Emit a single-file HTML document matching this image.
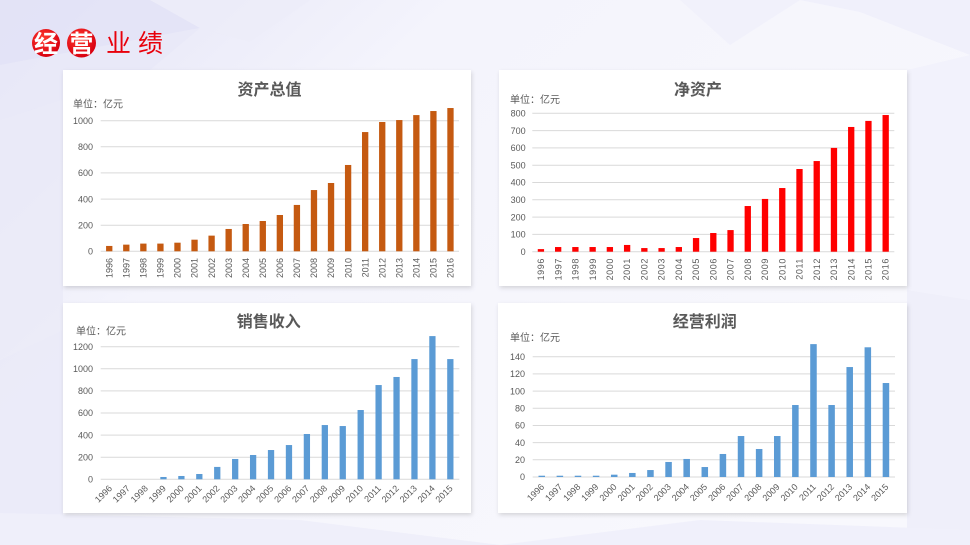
<!DOCTYPE html>
<html><head><meta charset="utf-8">
<style>
html,body{margin:0;padding:0;width:970px;height:545px;overflow:hidden;background:#f5f5fc;}
svg{display:block;}
text{font-family:"Liberation Sans","Noto Sans CJK SC",sans-serif;}
.t{font-size:16px;font-weight:bold;fill:#595959;text-anchor:middle;}
.u{font-size:10px;fill:#595959;}
.y{font-size:9px;fill:#595959;text-anchor:end;}
.x{font-size:9px;fill:#595959;text-anchor:end;}
.g{stroke:#d9d9d9;stroke-width:1;}
</style></head><body>
<svg width="970" height="545" viewBox="0 0 970 545" xmlns="http://www.w3.org/2000/svg">
<defs>
<filter id="sh" x="-5%" y="-5%" width="110%" height="110%">
<feDropShadow dx="1" dy="2" stdDeviation="2" flood-color="#000" flood-opacity="0.14"/>
</filter>
<radialGradient id="rc" cx="40%" cy="35%" r="65%">
<stop offset="0" stop-color="#ff3b30"/><stop offset="1" stop-color="#d80010"/>
</radialGradient>
<linearGradient id="bgl" x1="0" y1="0" x2="1" y2="0.6">
<stop offset="0" stop-color="#e4e4f6"/><stop offset="0.35" stop-color="#f4f4fc"/><stop offset="1" stop-color="#f8f8fd"/>
</linearGradient>
</defs>
<!-- background -->
<rect width="970" height="545" fill="url(#bgl)"/>
<polygon points="0,0 150,0 200,28 0,65" fill="#e2e2f6" opacity="0.8"/>
<polygon points="0,65 200,28 150,70 0,120" fill="#e8e8f8" opacity="0.8"/>
<polygon points="150,0 310,0 250,42 200,28" fill="#ececf9" opacity="0.8"/>
<polygon points="0,120 63,100 63,330 0,360" fill="#eaeaf8" opacity="0.8"/>
<polygon points="0,360 63,330 63,545 0,545" fill="#e8e8f8" opacity="0.8"/>
<polygon points="680,0 800,0 730,45" fill="#f1f1fb"/>
<polygon points="800,0 970,0 970,55 860,12" fill="#f0f0fb"/>
<polygon points="907,70 970,55 970,300 907,290" fill="#f2f2fc"/>
<polygon points="907,290 970,300 970,545 907,545" fill="#efeffa"/>
<polygon points="0,513 300,520 500,545 0,545" fill="#efeffa"/>
<polygon points="500,545 700,520 970,530 970,545" fill="#f0f0fb"/>

<!-- header -->
<circle cx="46" cy="43" r="14" fill="url(#rc)"/>
<circle cx="81.5" cy="43" r="14.5" fill="url(#rc)"/>
<text x="46" y="52" font-size="24" font-weight="bold" fill="#fff" text-anchor="middle">经</text>
<text x="81.5" y="52" font-size="24" font-weight="bold" fill="#fff" text-anchor="middle">营</text>
<text x="118.5" y="52" font-size="25" fill="#e8000b" text-anchor="middle">业</text>
<text x="150.5" y="52" font-size="25" fill="#e8000b" text-anchor="middle">绩</text>

<!-- panels -->
<rect x="63" y="70" width="408" height="216" fill="#fff" filter="url(#sh)"/>
<rect x="499" y="70" width="408" height="216" fill="#fff" filter="url(#sh)"/>
<rect x="63" y="303" width="408" height="210" fill="#fff" filter="url(#sh)"/>
<rect x="498" y="303" width="409" height="210" fill="#fff" filter="url(#sh)"/>

<!-- ===== Panel 1 ===== -->
<text class="t" x="269.5" y="95">资产总值</text>
<text class="u" x="73" y="107.5">单位：亿元</text>
<g class="g">
<line x1="100.7" x2="459" y1="120.7" y2="120.7"/>
<line x1="100.7" x2="459" y1="146.8" y2="146.8"/>
<line x1="100.7" x2="459" y1="172.9" y2="172.9"/>
<line x1="100.7" x2="459" y1="199.1" y2="199.1"/>
<line x1="100.7" x2="459" y1="225.2" y2="225.2"/>
<line x1="100.7" x2="459" y1="251.3" y2="251.3"/>
</g>
<g>
<text class="y" x="93" y="123.9">1000</text>
<text class="y" x="93" y="150">800</text>
<text class="y" x="93" y="176.1">600</text>
<text class="y" x="93" y="202.3">400</text>
<text class="y" x="93" y="228.4">200</text>
<text class="y" x="93" y="254.5">0</text>
</g>
<g transform="translate(100.7,251.3) scale(17.062,-0.1306)" fill="#c55a11">
<rect x="0.315" width="0.37" y="0" height="41"/>
<rect x="1.315" width="0.37" y="0" height="51"/>
<rect x="2.315" width="0.37" y="0" height="59"/>
<rect x="3.315" width="0.37" y="0" height="59"/>
<rect x="4.315" width="0.37" y="0" height="66"/>
<rect x="5.315" width="0.37" y="0" height="89"/>
<rect x="6.315" width="0.37" y="0" height="120"/>
<rect x="7.315" width="0.37" y="0" height="171"/>
<rect x="8.315" width="0.37" y="0" height="209"/>
<rect x="9.315" width="0.37" y="0" height="232"/>
<rect x="10.315" width="0.37" y="0" height="278"/>
<rect x="11.315" width="0.37" y="0" height="355"/>
<rect x="12.315" width="0.37" y="0" height="469"/>
<rect x="13.315" width="0.37" y="0" height="523"/>
<rect x="14.315" width="0.37" y="0" height="661"/>
<rect x="15.315" width="0.37" y="0" height="913"/>
<rect x="16.315" width="0.37" y="0" height="990"/>
<rect x="17.315" width="0.37" y="0" height="1005"/>
<rect x="18.315" width="0.37" y="0" height="1043"/>
<rect x="19.315" width="0.37" y="0" height="1074"/>
<rect x="20.315" width="0.37" y="0" height="1097"/>
</g>
<g>
<text class="x" transform="translate(112.4,258) rotate(-90)">1996</text>
<text class="x" transform="translate(129.5,258) rotate(-90)">1997</text>
<text class="x" transform="translate(146.6,258) rotate(-90)">1998</text>
<text class="x" transform="translate(163.6,258) rotate(-90)">1999</text>
<text class="x" transform="translate(180.7,258) rotate(-90)">2000</text>
<text class="x" transform="translate(197.7,258) rotate(-90)">2001</text>
<text class="x" transform="translate(214.8,258) rotate(-90)">2002</text>
<text class="x" transform="translate(231.9,258) rotate(-90)">2003</text>
<text class="x" transform="translate(248.9,258) rotate(-90)">2004</text>
<text class="x" transform="translate(266.0,258) rotate(-90)">2005</text>
<text class="x" transform="translate(283.0,258) rotate(-90)">2006</text>
<text class="x" transform="translate(300.1,258) rotate(-90)">2007</text>
<text class="x" transform="translate(317.2,258) rotate(-90)">2008</text>
<text class="x" transform="translate(334.2,258) rotate(-90)">2009</text>
<text class="x" transform="translate(351.3,258) rotate(-90)">2010</text>
<text class="x" transform="translate(368.4,258) rotate(-90)">2011</text>
<text class="x" transform="translate(385.4,258) rotate(-90)">2012</text>
<text class="x" transform="translate(402.5,258) rotate(-90)">2013</text>
<text class="x" transform="translate(419.5,258) rotate(-90)">2014</text>
<text class="x" transform="translate(436.6,258) rotate(-90)">2015</text>
<text class="x" transform="translate(453.7,258) rotate(-90)">2016</text>
</g>

<!-- ===== Panel 2 ===== -->
<text class="t" x="698" y="95">净资产</text>
<text class="u" x="510" y="102.8">单位：亿元</text>
<g class="g">
<line x1="532.3" x2="894.3" y1="113.3" y2="113.3"/>
<line x1="532.3" x2="894.3" y1="130.6" y2="130.6"/>
<line x1="532.3" x2="894.3" y1="147.9" y2="147.9"/>
<line x1="532.3" x2="894.3" y1="165.2" y2="165.2"/>
<line x1="532.3" x2="894.3" y1="182.5" y2="182.5"/>
<line x1="532.3" x2="894.3" y1="199.8" y2="199.8"/>
<line x1="532.3" x2="894.3" y1="217.1" y2="217.1"/>
<line x1="532.3" x2="894.3" y1="234.4" y2="234.4"/>
<line x1="532.3" x2="894.3" y1="251.7" y2="251.7"/>
</g>
<g>
<text class="y" x="525.7" y="116.5">800</text>
<text class="y" x="525.7" y="133.8">700</text>
<text class="y" x="525.7" y="151.1">600</text>
<text class="y" x="525.7" y="168.4">500</text>
<text class="y" x="525.7" y="185.7">400</text>
<text class="y" x="525.7" y="203">300</text>
<text class="y" x="525.7" y="220.3">200</text>
<text class="y" x="525.7" y="237.6">100</text>
<text class="y" x="525.7" y="254.9">0</text>
</g>
<g transform="translate(532.3,251.7) scale(17.238,-0.173)" fill="#ff0000">
<rect x="0.317" width="0.366" y="0" height="15"/>
<rect x="1.317" width="0.366" y="0" height="27"/>
<rect x="2.317" width="0.366" y="0" height="27"/>
<rect x="3.317" width="0.366" y="0" height="27"/>
<rect x="4.317" width="0.366" y="0" height="27"/>
<rect x="5.317" width="0.366" y="0" height="39"/>
<rect x="6.317" width="0.366" y="0" height="21"/>
<rect x="7.317" width="0.366" y="0" height="21"/>
<rect x="8.317" width="0.366" y="0" height="27"/>
<rect x="9.317" width="0.366" y="0" height="79"/>
<rect x="10.317" width="0.366" y="0" height="108"/>
<rect x="11.317" width="0.366" y="0" height="125"/>
<rect x="12.317" width="0.366" y="0" height="264"/>
<rect x="13.317" width="0.366" y="0" height="305"/>
<rect x="14.317" width="0.366" y="0" height="368"/>
<rect x="15.317" width="0.366" y="0" height="478"/>
<rect x="16.317" width="0.366" y="0" height="524"/>
<rect x="17.317" width="0.366" y="0" height="600"/>
<rect x="18.317" width="0.366" y="0" height="721"/>
<rect x="19.317" width="0.366" y="0" height="756"/>
<rect x="20.317" width="0.366" y="0" height="790"/>
</g>
<g>
<text class="x" letter-spacing="0.6" transform="translate(544.1,258) rotate(-90)">1996</text>
<text class="x" letter-spacing="0.6" transform="translate(561.3,258) rotate(-90)">1997</text>
<text class="x" letter-spacing="0.6" transform="translate(578.5,258) rotate(-90)">1998</text>
<text class="x" letter-spacing="0.6" transform="translate(595.8,258) rotate(-90)">1999</text>
<text class="x" letter-spacing="0.6" transform="translate(613.0,258) rotate(-90)">2000</text>
<text class="x" letter-spacing="0.6" transform="translate(630.2,258) rotate(-90)">2001</text>
<text class="x" letter-spacing="0.6" transform="translate(647.5,258) rotate(-90)">2002</text>
<text class="x" letter-spacing="0.6" transform="translate(664.7,258) rotate(-90)">2003</text>
<text class="x" letter-spacing="0.6" transform="translate(681.9,258) rotate(-90)">2004</text>
<text class="x" letter-spacing="0.6" transform="translate(699.2,258) rotate(-90)">2005</text>
<text class="x" letter-spacing="0.6" transform="translate(716.4,258) rotate(-90)">2006</text>
<text class="x" letter-spacing="0.6" transform="translate(733.6,258) rotate(-90)">2007</text>
<text class="x" letter-spacing="0.6" transform="translate(750.9,258) rotate(-90)">2008</text>
<text class="x" letter-spacing="0.6" transform="translate(768.1,258) rotate(-90)">2009</text>
<text class="x" letter-spacing="0.6" transform="translate(785.3,258) rotate(-90)">2010</text>
<text class="x" letter-spacing="0.6" transform="translate(802.6,258) rotate(-90)">2011</text>
<text class="x" letter-spacing="0.6" transform="translate(819.8,258) rotate(-90)">2012</text>
<text class="x" letter-spacing="0.6" transform="translate(837.0,258) rotate(-90)">2013</text>
<text class="x" letter-spacing="0.6" transform="translate(854.3,258) rotate(-90)">2014</text>
<text class="x" letter-spacing="0.6" transform="translate(871.5,258) rotate(-90)">2015</text>
<text class="x" letter-spacing="0.6" transform="translate(888.7,258) rotate(-90)">2016</text>
</g>

<!-- ===== Panel 3 ===== -->
<text class="t" x="268.7" y="327">销售收入</text>
<text class="u" x="76" y="334.5">单位：亿元</text>
<g class="g">
<line x1="100.7" x2="459.3" y1="346.7" y2="346.7"/>
<line x1="100.7" x2="459.3" y1="368.8" y2="368.8"/>
<line x1="100.7" x2="459.3" y1="390.9" y2="390.9"/>
<line x1="100.7" x2="459.3" y1="413" y2="413"/>
<line x1="100.7" x2="459.3" y1="435.1" y2="435.1"/>
<line x1="100.7" x2="459.3" y1="457.2" y2="457.2"/>
<line x1="100.7" x2="459.3" y1="479.3" y2="479.3"/>
</g>
<g>
<text class="y" x="93" y="349.9">1200</text>
<text class="y" x="93" y="372">1000</text>
<text class="y" x="93" y="394.1">800</text>
<text class="y" x="93" y="416.2">600</text>
<text class="y" x="93" y="438.3">400</text>
<text class="y" x="93" y="460.4">200</text>
<text class="y" x="93" y="482.5">0</text>
</g>
<g transform="translate(100.7,479.3) scale(17.93,-0.1105)" fill="#5b9bd5">
<rect x="3.325" width="0.35" y="0" height="21"/>
<rect x="4.325" width="0.35" y="0" height="30"/>
<rect x="5.325" width="0.35" y="0" height="48"/>
<rect x="6.325" width="0.35" y="0" height="112"/>
<rect x="7.325" width="0.35" y="0" height="184"/>
<rect x="8.325" width="0.35" y="0" height="220"/>
<rect x="9.325" width="0.35" y="0" height="265"/>
<rect x="10.325" width="0.35" y="0" height="310"/>
<rect x="11.325" width="0.35" y="0" height="410"/>
<rect x="12.325" width="0.35" y="0" height="491"/>
<rect x="13.325" width="0.35" y="0" height="482"/>
<rect x="14.325" width="0.35" y="0" height="627"/>
<rect x="15.325" width="0.35" y="0" height="853"/>
<rect x="16.325" width="0.35" y="0" height="926"/>
<rect x="17.325" width="0.35" y="0" height="1088"/>
<rect x="18.325" width="0.35" y="0" height="1296"/>
<rect x="19.325" width="0.35" y="0" height="1088"/>
</g>
<g>
<text class="x" transform="translate(112.7,489) rotate(-45)">1996</text>
<text class="x" transform="translate(130.6,489) rotate(-45)">1997</text>
<text class="x" transform="translate(148.5,489) rotate(-45)">1998</text>
<text class="x" transform="translate(166.5,489) rotate(-45)">1999</text>
<text class="x" transform="translate(184.4,489) rotate(-45)">2000</text>
<text class="x" transform="translate(202.3,489) rotate(-45)">2001</text>
<text class="x" transform="translate(220.2,489) rotate(-45)">2002</text>
<text class="x" transform="translate(238.2,489) rotate(-45)">2003</text>
<text class="x" transform="translate(256.1,489) rotate(-45)">2004</text>
<text class="x" transform="translate(274.0,489) rotate(-45)">2005</text>
<text class="x" transform="translate(292.0,489) rotate(-45)">2006</text>
<text class="x" transform="translate(309.9,489) rotate(-45)">2007</text>
<text class="x" transform="translate(327.8,489) rotate(-45)">2008</text>
<text class="x" transform="translate(345.7,489) rotate(-45)">2009</text>
<text class="x" transform="translate(363.7,489) rotate(-45)">2010</text>
<text class="x" transform="translate(381.6,489) rotate(-45)">2011</text>
<text class="x" transform="translate(399.5,489) rotate(-45)">2012</text>
<text class="x" transform="translate(417.5,489) rotate(-45)">2013</text>
<text class="x" transform="translate(435.4,489) rotate(-45)">2014</text>
<text class="x" transform="translate(453.3,489) rotate(-45)">2015</text>
</g>

<!-- ===== Panel 4 ===== -->
<text class="t" x="704.7" y="327">经营利润</text>
<text class="u" x="510" y="341.2">单位：亿元</text>
<g class="g">
<line x1="532.7" x2="895" y1="356.7" y2="356.7"/>
<line x1="532.7" x2="895" y1="373.9" y2="373.9"/>
<line x1="532.7" x2="895" y1="391.1" y2="391.1"/>
<line x1="532.7" x2="895" y1="408.3" y2="408.3"/>
<line x1="532.7" x2="895" y1="425.5" y2="425.5"/>
<line x1="532.7" x2="895" y1="442.6" y2="442.6"/>
<line x1="532.7" x2="895" y1="459.8" y2="459.8"/>
<line x1="532.7" x2="895" y1="477" y2="477"/>
</g>
<g>
<text class="y" x="525" y="359.9">140</text>
<text class="y" x="525" y="377.1">120</text>
<text class="y" x="525" y="394.3">100</text>
<text class="y" x="525" y="411.5">80</text>
<text class="y" x="525" y="428.7">60</text>
<text class="y" x="525" y="445.8">40</text>
<text class="y" x="525" y="463">20</text>
<text class="y" x="525" y="480.2">0</text>
</g>
<g transform="translate(532.7,477) scale(18.115,-0.859)" fill="#5b9bd5">
<rect x="0.32" width="0.36" y="0" height="1.5"/>
<rect x="1.32" width="0.36" y="0" height="1.5"/>
<rect x="2.32" width="0.36" y="0" height="1.5"/>
<rect x="3.32" width="0.36" y="0" height="1.5"/>
<rect x="4.32" width="0.36" y="0" height="2.7"/>
<rect x="5.32" width="0.36" y="0" height="4.7"/>
<rect x="6.32" width="0.36" y="0" height="8.1"/>
<rect x="7.32" width="0.36" y="0" height="17.5"/>
<rect x="8.32" width="0.36" y="0" height="21"/>
<rect x="9.32" width="0.36" y="0" height="11.6"/>
<rect x="10.32" width="0.36" y="0" height="26.8"/>
<rect x="11.32" width="0.36" y="0" height="47.7"/>
<rect x="12.32" width="0.36" y="0" height="32.6"/>
<rect x="13.32" width="0.36" y="0" height="47.7"/>
<rect x="14.32" width="0.36" y="0" height="83.8"/>
<rect x="15.32" width="0.36" y="0" height="154.7"/>
<rect x="16.32" width="0.36" y="0" height="83.8"/>
<rect x="17.32" width="0.36" y="0" height="128"/>
<rect x="18.32" width="0.36" y="0" height="151"/>
<rect x="19.32" width="0.36" y="0" height="109.4"/>
</g>
<g>
<text class="x" transform="translate(544.8,487.5) rotate(-45)">1996</text>
<text class="x" transform="translate(562.9,487.5) rotate(-45)">1997</text>
<text class="x" transform="translate(581.0,487.5) rotate(-45)">1998</text>
<text class="x" transform="translate(599.1,487.5) rotate(-45)">1999</text>
<text class="x" transform="translate(617.3,487.5) rotate(-45)">2000</text>
<text class="x" transform="translate(635.4,487.5) rotate(-45)">2001</text>
<text class="x" transform="translate(653.5,487.5) rotate(-45)">2002</text>
<text class="x" transform="translate(671.6,487.5) rotate(-45)">2003</text>
<text class="x" transform="translate(689.7,487.5) rotate(-45)">2004</text>
<text class="x" transform="translate(707.8,487.5) rotate(-45)">2005</text>
<text class="x" transform="translate(726.0,487.5) rotate(-45)">2006</text>
<text class="x" transform="translate(744.1,487.5) rotate(-45)">2007</text>
<text class="x" transform="translate(762.2,487.5) rotate(-45)">2008</text>
<text class="x" transform="translate(780.3,487.5) rotate(-45)">2009</text>
<text class="x" transform="translate(798.4,487.5) rotate(-45)">2010</text>
<text class="x" transform="translate(816.5,487.5) rotate(-45)">2011</text>
<text class="x" transform="translate(834.7,487.5) rotate(-45)">2012</text>
<text class="x" transform="translate(852.8,487.5) rotate(-45)">2013</text>
<text class="x" transform="translate(870.9,487.5) rotate(-45)">2014</text>
<text class="x" transform="translate(889.0,487.5) rotate(-45)">2015</text>
</g>
</svg>
</body></html>
